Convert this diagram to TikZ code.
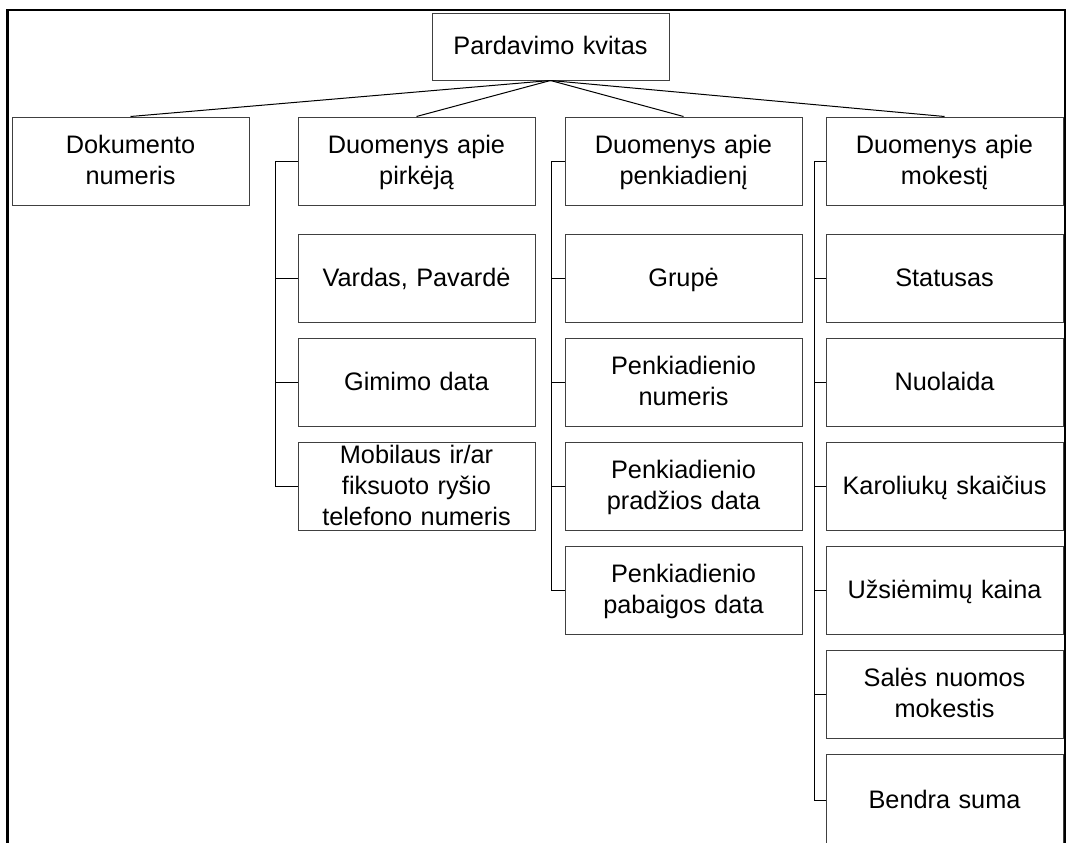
\documentclass[tikz,border=0pt]{standalone}
\usepackage{fontspec}
\setmainfont{Liberation Sans}
\newcommand\boxstrut{\rule[-7.5pt]{0pt}{31pt}}
\begin{document}
\begin{tikzpicture}[x=1pt,y=-1pt,
  box/.style={draw=black!75, line width=1pt, minimum width=237pt, minimum height=88pt,
    inner sep=0pt, align=center, text width=235pt, font=\fontsize{25.3}{31}\selectfont,
    execute at begin node=\boxstrut, execute at end node=\boxstrut},
  tightbox/.style={inner ysep=-4pt},
  conn/.style={draw=black, line width=1pt},
  frame/.style={draw=black, line width=2.5pt}]
\useasboundingbox (0,0) rectangle (1068,843);
\fill[white] (0,0) rectangle (1068,843);
\clip (0,0) rectangle (1068,843);

% root
\node[box, minimum height=66pt] (root) at (550.5,47) {Pardavimo kvitas};

% level 1
\node[box] (dok)  at (130.5,161) {Dokumento\\numeris};
\node[box] (pirk) at (416.5,161) {Duomenys apie\\pirkėją};
\node[box] (penk) at (683.5,161) {Duomenys apie\\penkiadienį};
\node[box] (mok)  at (944.5,161) {Duomenys apie\\mokestį};

% pirkėjas children
\node[box] (p1) at (416.5,278) {Vardas, Pavardė};
\node[box] (p2) at (416.5,382) {Gimimo data};
\node[box, tightbox] (p3) at (416.5,486) {Mobilaus ir/ar\\fiksuoto ryšio\\telefono numeris};

% penkiadienis children
\node[box] (k1) at (683.5,278) {Grupė};
\node[box] (k2) at (683.5,382) {Penkiadienio\\numeris};
\node[box] (k3) at (683.5,486) {Penkiadienio\\pradžios data};
\node[box] (k4) at (683.5,590) {Penkiadienio\\pabaigos data};

% mokestis children
\node[box] (m1) at (944.5,278) {Statusas};
\node[box] (m2) at (944.5,382) {Nuolaida};
\node[box] (m3) at (944.5,486) {Karoliukų skaičius};
\node[box] (m4) at (944.5,590) {Užsiėmimų kaina};
\node[box] (m5) at (944.5,694) {Salės nuomos\\mokestis};
\node[box, minimum height=92pt] (m6) at (944.5,800) {Bendra suma};

% root connectors
\draw[conn] (root.south) -- (dok.north);
\draw[conn] (root.south) -- (pirk.north);
\draw[conn] (root.south) -- (penk.north);
\draw[conn] (root.south) -- (mok.north);

% bracket coordinates
\coordinate (pb) at (275,161);
\coordinate (kb) at (551,161);
\coordinate (mb) at (814,161);

% pirkėjas bracket
\draw[conn] (pirk.west) -- (pb) -- (pb |- p3.west) -- (p3.west);
\draw[conn] (pb |- p1.west) -- (p1.west);
\draw[conn] (pb |- p2.west) -- (p2.west);

% penkiadienis bracket
\draw[conn] (penk.west) -- (kb) -- (kb |- k4.west) -- (k4.west);
\draw[conn] (kb |- k1.west) -- (k1.west);
\draw[conn] (kb |- k2.west) -- (k2.west);
\draw[conn] (kb |- k3.west) -- (k3.west);

% mokestis bracket
\draw[conn] (mok.west) -- (mb) -- (mb |- m6.west) -- (m6.west);
\draw[conn] (mb |- m1.west) -- (m1.west);
\draw[conn] (mb |- m2.west) -- (m2.west);
\draw[conn] (mb |- m3.west) -- (m3.west);
\draw[conn] (mb |- m4.west) -- (m4.west);
\draw[conn] (mb |- m5.west) -- (m5.west);

% outer frame (open at the bottom)
\draw[frame] (7.5,850) -- (7.5,10) -- (1065,10) -- (1065,850);
\end{tikzpicture}
\end{document}
